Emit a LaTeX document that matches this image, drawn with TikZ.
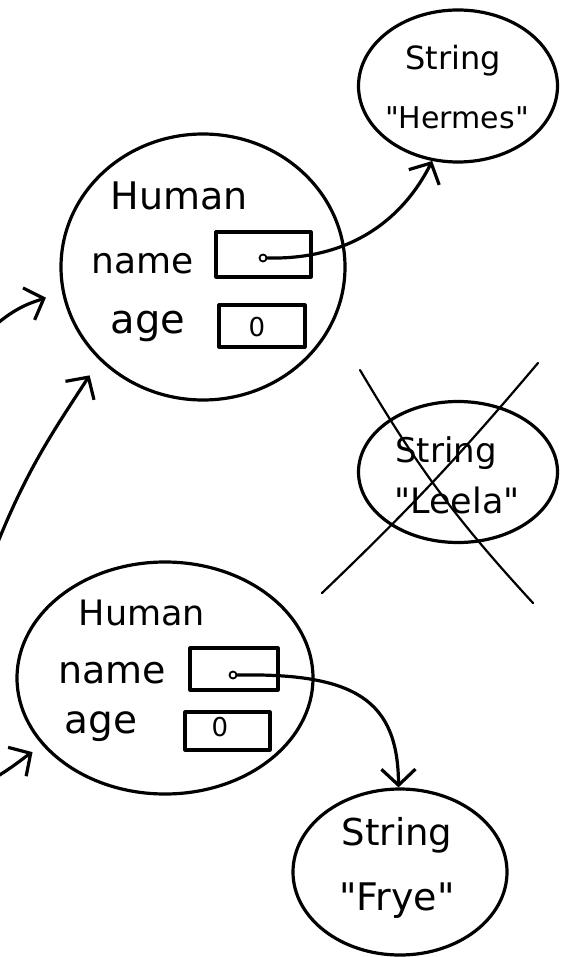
\documentclass[tikz,border=0pt]{standalone}
\usepackage{fontspec}
\setmainfont{DejaVu Sans}[Ligatures=TeXOff]
\usetikzlibrary{shapes.geometric,arrows.meta}

\tikzset{
  ink/.style={line width=3.2pt, line cap=round, line join=round, black},
  blob/.style={ink, draw, ellipse, inner sep=0pt},
  fieldbox/.style={ink, draw, rectangle, inner sep=0pt},
  refdot/.style={draw, circle, fill=white, line width=1.8pt, inner sep=0pt, minimum size=7pt},
  txt/.style={inner sep=0pt, anchor=base, font=\fontsize{#1}{#1}\selectfont},
  val/.style={inner sep=0pt, anchor=center, font=\fontsize{#1}{#1}\selectfont},
  arr/.style={ink, -{Straight Barb[length=16pt,width=34pt,line width=3.2pt]}},
  strike/.style={line width=2.2pt, line cap=round, black}
}

\begin{document}
\begin{tikzpicture}[x=1pt,y=-1pt]
\useasboundingbox (0,0) rectangle (569,957);

% ---- objects (heap blobs) ----
\node[blob, minimum width=199pt, minimum height=152pt] (hermes) at (458,86) {};
\node[blob, minimum width=284pt, minimum height=266pt] (human1) at (203,267) {};
\node[blob, minimum width=199pt, minimum height=141pt] (leela)  at (458,472) {};
\node[blob, minimum width=296pt, minimum height=232pt] (human2) at (165,678) {};
\node[blob, minimum width=214pt, minimum height=166pt] (frye)   at (400,872) {};

% ---- String "Hermes" ----
\node[txt=32] (hS) at (453,70)  {String};
\node[txt=30] (hV) at (457,129) {"Hermes"};

% ---- first Human ----
\node[txt=38] (h1t)   at (179,210) {Human};
\node[txt=36] (h1n)   at (143,273) {name};
\node[txt=40] (h1a)   at (148,333) {age};
\node[fieldbox, minimum width=95pt, minimum height=45pt] (h1nb) at (263.5,254.5) {};
\node[fieldbox, minimum width=86pt, minimum height=42pt] (h1ab) at (262,326) {};
\node[val=26] (h1av) at (257,327) {0};
\node[refdot] (dot1) at (263,258) {};

% ---- String "Leela" (struck out) ----
\node[txt=34] (lS) at (446,462) {String};
\node[txt=35] (lV) at (457,513) {"Leela"};
\coordinate (x1a) at (360,370);
\coordinate (x1b) at (533,603);
\coordinate (x2a) at (538,363);
\coordinate (x2b) at (322,593);
\draw[strike] (x1a) to[bend right=6] (x1b);
\draw[strike] (x2a) to[bend left=3] (x2b);

% ---- second Human ----
\node[txt=35] (h2t)   at (142,625) {Human};
\node[txt=38] (h2n)   at (112,683) {name};
\node[txt=39] (h2a)   at (101,733) {age};
\node[fieldbox, minimum width=88pt, minimum height=42pt] (h2nb) at (234,669) {};
\node[fieldbox, minimum width=85pt, minimum height=38pt] (h2ab) at (227.5,731) {};
\node[val=26] (h2av) at (220,727) {0};
\node[refdot] (dot2) at (233,675) {};

% ---- String "Frye" ----
\node[txt=37] (fS) at (397,845) {String};
\node[txt=38] (fV) at (397,910) {"Frye"};

% ---- references held by the name fields ----
\draw[arr] (dot1.east) .. controls (355,260) and (405,215) .. (hermes.251);
\draw[arr] (dot2.east) .. controls (355,673) and (398,700) .. (frye.91);

% ---- incoming references from outside ----
\coordinate (src1) at (-2,323);
\coordinate (src2) at (-2,542);
\coordinate (src3) at (-2,776);
\draw[arr, shorten >=17pt] (src1) to[out=40,in=200] (human1.190);
\draw[arr, shorten >=18pt] (src2) to[out=68,in=237] (human1.222);
\draw[arr, shorten >=12pt] (src3) to[out=32,in=212] (human2.209);

\end{tikzpicture}
\end{document}
